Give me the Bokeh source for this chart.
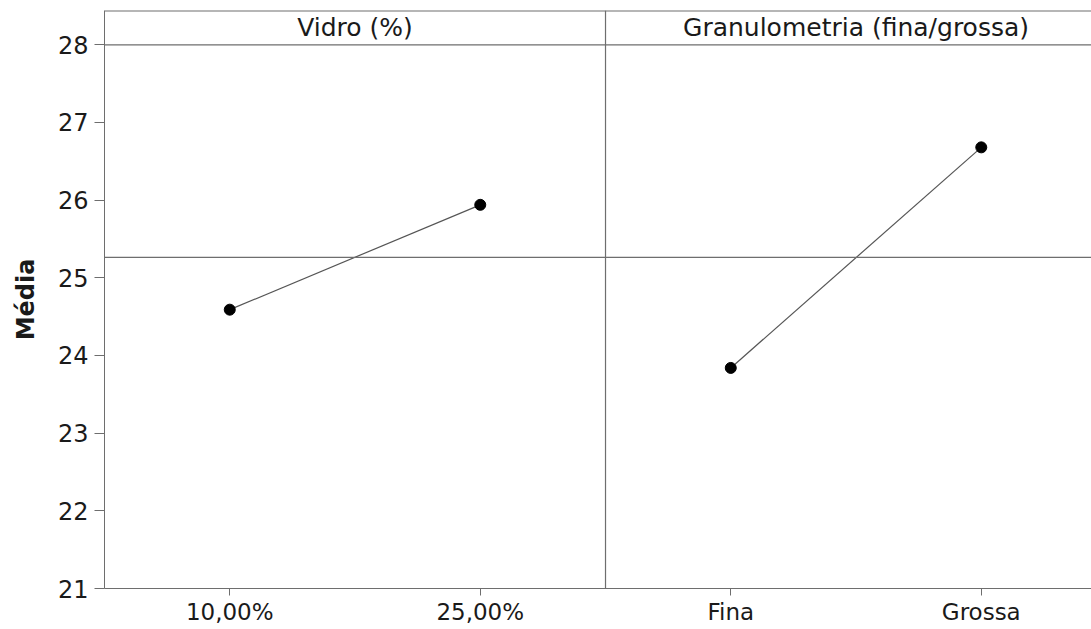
from bokeh.plotting import figure
from bokeh.models import Range1d, FixedTicker, Span, Label, ColumnDataSource
from bokeh.embed import file_html
from bokeh.resources import INLINE

# ---- data ----
factors = ["Vidro (%)", "Granulometria (fina/grossa)"]
levels_vidro = ["10,00%", "25,00%"]
levels_gran = ["Fina", "Grossa"]
means_vidro = [24.59, 25.94]
means_gran = [23.84, 26.68]
y_ticks = [21, 22, 23, 24, 25, 26, 27, 28]
y_label = "Média"

levels = [levels_vidro, levels_gran]
means = [means_vidro, means_gran]
grand_mean = sum(means_vidro + means_gran) / 4.0

FONT = "DejaVu Sans"
TXT = "#1a1a1a"
FRAME = "#6e6e6e"

y_top = 28.442
p = figure(width=1091, height=629,
           x_range=Range1d(0, 1.970), y_range=Range1d(21, y_top),
           output_backend="svg", toolbar_location=None,
           min_border_left=104, min_border_right=0,
           min_border_top=10, min_border_bottom=41)
p.outline_line_color = None
p.xgrid.visible = False
p.ygrid.visible = False
p.background_fill_color = "white"
p.border_fill_color = "white"

tick_pos = []
tick_lab = {}
for i, (lv, mv) in enumerate(zip(levels, means)):
    xs = [i + (j + 0.5) / len(lv) for j in range(len(lv))]
    for x, l in zip(xs, lv):
        tick_pos.append(x)
        tick_lab[x] = l
    src = ColumnDataSource(dict(x=xs, y=mv))
    p.line("x", "y", source=src, line_color="#555555", line_width=1.2)
    p.scatter("x", "y", source=src, size=11, fill_color="black", line_color="black")
    p.add_layout(Label(x=i + 0.5, y=(28 + y_top) / 2, text=factors[i],
                       text_align="center", text_baseline="middle",
                       text_font=FONT, text_font_size="25px", text_color=TXT))

# axes
xa = p.xaxis[0]
xa.ticker = FixedTicker(ticks=tick_pos)
xa.major_label_overrides = tick_lab
xa.major_label_text_font = FONT
xa.major_label_text_font_size = "23px"
xa.major_label_text_color = TXT
xa.axis_line_color = FRAME
xa.major_tick_line_color = FRAME
xa.major_tick_out = 7
xa.major_tick_in = 0
xa.minor_tick_line_color = None
xa.major_label_standoff = 3

ya = p.yaxis[0]
ya.ticker = FixedTicker(ticks=y_ticks)
ya.major_label_text_font = FONT
ya.major_label_text_font_size = "24px"
ya.major_label_text_color = TXT
ya.axis_line_color = FRAME
ya.major_tick_line_color = FRAME
ya.major_tick_out = 10
ya.major_tick_in = 0
ya.minor_tick_line_color = None
ya.major_label_standoff = 6
ya.axis_label = y_label
ya.axis_label_text_font = FONT
ya.axis_label_text_font_style = "bold"
ya.axis_label_text_font_size = "24px"
ya.axis_label_text_color = TXT
ya.axis_label_standoff = 15

# frame lines
p.add_layout(Span(location=y_top, dimension="width", line_color=FRAME, line_width=2))
p.add_layout(Span(location=28, dimension="width", line_color=FRAME, line_width=1.2))
p.add_layout(Span(location=1, dimension="height", line_color=FRAME, line_width=1.2))
p.add_layout(Span(location=grand_mean, dimension="width", line_color=FRAME, line_width=1.2))

open("out.html", "w").write(file_html(p, INLINE))
